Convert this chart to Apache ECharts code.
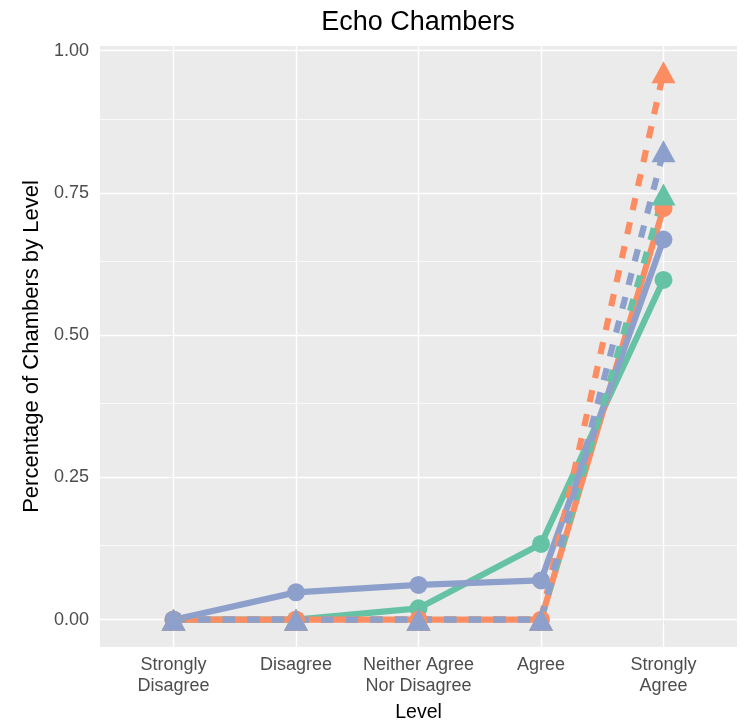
<!DOCTYPE html>
<html>
<head>
<meta charset="utf-8">
<script src="https://cdn.jsdelivr.net/npm/echarts@6/dist/echarts.min.js"></script>
<style>html,body{margin:0;padding:0;background:#fff}#c{width:744px;height:728px}</style>
</head>
<body>
<div id="c"></div>
<script>
const categories = ['Strongly\nDisagree', 'Disagree', 'Neither Agree\nNor Disagree', 'Agree', 'Strongly\nAgree'];
const yTicks = [0, 0.25, 0.5, 0.75, 1];
const yMinor = [0.125, 0.375, 0.625, 0.875];

const greenSolid  = [0, 0, 0.02, 0.133, 0.597];
const orangeSolid = [0, 0, 0, 0, 0.723];
const blueSolid   = [0, 0.048, 0.061, 0.069, 0.668];
const greenDashed  = [0, 0, 0, 0, 0.747];
const orangeDashed = [0, 0, 0, 0, 0.962];
const blueDashed   = [0, 0, 0, 0, 0.823];

const GREEN = '#66c2a5', ORANGE = '#fc8d62', BLUE = '#8da0cb';

function pts(arr) { return arr.map((v, i) => [i, v]); }

const defs = [
  {name: 'green solid', data: greenSolid, color: GREEN, dashed: false},
  {name: 'orange solid', data: orangeSolid, color: ORANGE, dashed: false},
  {name: 'blue solid', data: blueSolid, color: BLUE, dashed: false},
  {name: 'green dashed', data: greenDashed, color: GREEN, dashed: true},
  {name: 'orange dashed', data: orangeDashed, color: ORANGE, dashed: true},
  {name: 'blue dashed', data: blueDashed, color: BLUE, dashed: true}
];

const series = [];
series.push({
  type: 'line', data: [], silent: true, showSymbol: false,
  markLine: {
    silent: true, symbol: 'none', z: 1, animation: false,
    label: {show: false},
    emphasis: {disabled: true},
    data: [
      ...yMinor.map(v => ({yAxis: v, lineStyle: {color: '#ffffff', width: 0.7, type: 'solid'}})),
      ...yTicks.map(v => ({yAxis: v, lineStyle: {color: '#ffffff', width: 1.4, type: 'solid'}})),
      ...categories.map((c, i) => ({xAxis: i, lineStyle: {color: '#ffffff', width: 1.4, type: 'solid'}}))
    ]
  }
});
defs.forEach(d => {
  series.push({
    name: d.name, type: 'line', data: pts(d.data), z: 2,
    showSymbol: false, symbol: 'none', animation: false,
    lineStyle: {color: d.color, width: 6.2, type: d.dashed ? [12.3, 12.3] : 'solid', cap: 'butt'}
  });
});
defs.forEach(d => {
  series.push({
    name: d.name + ' pts', type: 'scatter', data: pts(d.data), z: 3, animation: false,
    symbol: d.dashed ? 'triangle' : 'circle',
    symbolSize: d.dashed ? [24, 22] : 18,
    itemStyle: {color: d.color, opacity: 1}
  });
});

const chart = echarts.init(document.getElementById('c'), null, {renderer: 'canvas'});
chart.setOption({
  backgroundColor: '#ffffff',
  animation: false,
  title: {
    text: 'Echo Chambers', left: 418, top: 9, textAlign: 'center', padding: 0,
    textStyle: {fontFamily: 'Liberation Sans', fontSize: 27, fontWeight: 'normal', color: '#000'}
  },
  grid: {left: 100, right: 7, top: 46, bottom: 80, show: true, backgroundColor: '#ebebeb', borderWidth: 0},
  xAxis: {
    type: 'value', min: -0.6, max: 4.6,
    name: 'Level', nameLocation: 'middle', nameGap: 56,
    nameTextStyle: {fontFamily: 'Liberation Sans', fontSize: 19.5, color: '#000'},
    axisLine: {show: false},
    axisTick: {show: true, length: 5, customValues: [0, 1, 2, 3, 4], lineStyle: {color: '#333', width: 1.1}},
    axisLabel: {
      customValues: [0, 1, 2, 3, 4], margin: 8,
      formatter: v => categories[Math.round(v)] || '',
      fontFamily: 'Liberation Sans', fontSize: 18, color: '#4d4d4d', lineHeight: 21, align: 'center'
    },
    splitLine: {show: false}
  },
  yAxis: {
    type: 'value', min: -0.048, max: 1.008,
    name: 'Percentage of Chambers by Level', nameLocation: 'middle', nameGap: 53, nameRotate: 90,
    nameTextStyle: {fontFamily: 'Liberation Sans', fontSize: 22, color: '#000'},
    axisLine: {show: false},
    axisTick: {show: true, length: 5, customValues: yTicks, lineStyle: {color: '#333', width: 1.1}},
    axisLabel: {
      customValues: yTicks, margin: 11,
      formatter: v => v.toFixed(2),
      fontFamily: 'Liberation Sans', fontSize: 18, color: '#4d4d4d'
    },
    splitLine: {show: false}
  },
  series: series
});
</script>
</body>
</html>
